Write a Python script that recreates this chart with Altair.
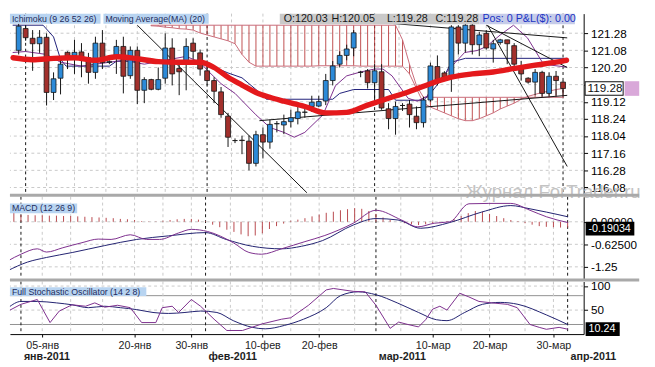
import json
import altair as alt
import pandas as pd

FONT = "Liberation Sans"
W = 589
H_MAIN, H_MACD, H_STO = 185, 84, 54

# ---------------- candles (bar index: 0 = 02-янв-2011, one bar per trading day incl. Sundays) ----
BAR_IDX = list(range(-1, 78))
OPEN = [121.24, 122.36, 121.86, 121.58, 121.91, 119.08, 119.81, 121.14, 120.98, 121.16,
        120.86, 120.11, 121.61, 120.62, 120.98, 121.44, 119.94, 121.24, 119.19, 119.74,
        119.24, 119.81, 121.36, 120.31, 120.61, 121.61, 121.11, 120.19, 119.69, 119.11,
        117.86, 116.61, 116.63, 116.58, 115.44, 116.91, 116.53, 117.47, 117.41, 117.58,
        117.74, 118.06, 118.36, 118.38, 118.64, 119.69, 120.53, 120.98, 121.36, 120.11,
        120.19, 119.58, 120.14, 118.24, 117.74, 118.41, 118.48, 117.86, 117.53, 118.69,
        120.41, 120.08, 119.86, 122.44, 121.61, 122.53, 121.53, 122.11, 121.31, 121.64,
        121.78, 121.48, 120.36, 119.81, 119.61, 120.11, 119.03, 119.91, 119.61]
HIGH = [122.61, 122.53, 122.28, 122.28, 122.11, 120.11, 120.81, 121.19, 121.78, 121.61,
        121.11, 121.94, 122.28, 120.73, 121.78, 121.94, 121.44, 121.44, 119.86, 119.78,
        120.36, 122.11, 121.86, 120.61, 121.86, 121.86, 121.28, 120.44, 119.86, 119.36,
        118.03, 116.72, 116.86, 116.86, 117.11, 117.28, 117.69, 117.61, 117.94, 118.19,
        118.48, 118.41, 118.91, 118.91, 120.03, 120.69, 121.19, 121.53, 122.28, 120.19,
        120.28, 120.53, 120.53, 118.53, 118.61, 118.53, 118.69, 118.36, 118.86, 120.61,
        120.98, 120.17, 122.53, 122.53, 122.68, 122.68, 122.19, 122.28, 121.78, 121.83,
        121.78, 121.61, 120.69, 119.86, 120.28, 120.19, 120.11, 120.18, 119.69]
LOW = [121.03, 121.73, 120.19, 121.11, 118.41, 118.69, 118.98, 120.28, 120.03, 119.86,
       119.53, 119.78, 120.28, 120.53, 120.03, 119.03, 119.78, 118.48, 118.53, 119.19,
       119.19, 119.53, 119.44, 118.94, 119.19, 120.78, 119.94, 119.44, 118.53, 117.78,
       116.28, 116.48, 115.91, 115.08, 115.28, 115.69, 116.19, 117.03, 116.94, 117.28,
       117.44, 117.78, 118.08, 118.33, 118.43, 119.44, 120.36, 120.73, 120.94, 119.86,
       119.28, 118.44, 118.19, 117.19, 116.91, 118.13, 117.28, 117.19, 117.28, 118.61,
       119.44, 119.78, 119.11, 121.03, 121.13, 121.03, 120.94, 121.28, 120.61, 121.53,
       120.53, 120.36, 119.69, 119.53, 118.94, 118.86, 118.91, 118.91, 118.93]
CLOSE = [122.48, 121.89, 121.58, 121.91, 119.08, 119.78, 120.53, 120.91, 121.14, 120.81,
         120.11, 121.61, 120.61, 120.66, 121.44, 119.91, 121.24, 119.19, 119.74, 119.24,
         119.74, 121.36, 120.03, 120.14, 121.44, 121.19, 120.28, 119.69, 119.14, 117.94,
         116.78, 116.61, 116.61, 115.44, 116.91, 116.53, 117.44, 117.48, 117.58, 117.78,
         118.08, 118.07, 118.58, 118.61, 119.69, 120.44, 120.98, 121.31, 122.14, 120.12,
         119.58, 120.19, 118.28, 117.74, 118.36, 118.41, 117.94, 117.53, 118.69, 120.44,
         119.69, 119.86, 122.44, 121.61, 122.53, 121.53, 122.03, 121.36, 121.58, 121.78,
         121.58, 120.53, 120.03, 119.61, 120.11, 119.03, 119.91, 119.69, 119.28]

# ---------------- Moving Average (20) ----------------
MA_X = [-1.8, 1, 4, 7, 10, 13, 16, 19, 22, 25, 27, 29, 31, 33, 35, 37, 40, 43, 46, 49,
        52, 55, 58, 61, 64, 67, 70, 73, 76, 77.5]
MA_Y = [120.86, 120.76, 120.83, 120.86, 120.73, 120.91, 120.81, 120.66, 120.63, 120.63,
        120.36, 119.86, 119.46, 119.08, 118.83, 118.63, 118.36, 118.03, 118.06, 118.43,
        118.78, 119.13, 119.53, 119.86, 120.03, 120.13, 120.31, 120.48, 120.63, 120.73]

# ---------------- Ichimoku ----------------
CLOUD_X = list(range(18, 78))
SPAN_A = [122.50, 122.48, 122.43, 122.40, 122.35, 122.33, 122.28, 122.13, 122.03, 121.93,
          121.83, 121.73, 121.58, 121.03, 120.63, 120.43, 120.43, 120.43, 120.43, 120.43,
          120.43, 120.43, 120.43, 120.43, 120.45, 120.45, 120.45, 120.45, 120.45, 120.45,
          120.43, 120.43, 120.43, 120.43, 120.43, 120.43, 120.43, 120.03, 119.28, 118.53,
          118.33, 118.18, 118.03, 117.88, 117.73, 117.63, 117.63, 117.73, 117.88, 118.03,
          118.23, 118.38, 118.53, 118.73, 118.88, 118.98, 119.08, 119.15, 119.23, 119.28]
SPAN_B = [122.53, 122.53, 122.53, 122.53, 122.53, 122.53, 122.53, 122.53, 122.53, 122.53,
          122.53, 122.53, 122.53, 122.53, 122.53, 122.53, 122.53, 122.53, 122.53, 122.53,
          122.53, 122.53, 122.53, 122.53, 122.53, 122.53, 122.53, 122.53, 122.53, 122.53,
          122.53, 122.53, 122.53, 122.53, 122.53, 122.53, 121.78, 120.53, 119.43, 118.83,
          118.83, 118.83, 118.83, 118.83, 118.83, 118.83, 118.83, 118.83, 118.83, 118.83,
          118.83, 118.83, 118.83, 118.83, 118.83, 118.83, 118.83, 118.83, 118.83, 118.83]
KIJUN_X = [-1.8, 2.5, 4, 5, 5.8, 12, 13, 22, 25, 27, 29, 31, 33, 34.5, 44, 45, 47, 52, 53, 57,
           58, 60, 61, 63, 77.5]
KIJUN_Y = [122.53, 122.53, 121.93, 120.78, 120.43, 120.43, 120.68, 120.68, 120.58, 120.38,
           120.08, 119.83, 119.23, 118.73, 118.73, 119.03, 119.23, 119.23, 118.68, 118.68,
           119.03, 119.93, 120.63, 120.83, 120.83]
TENKAN_X = [-1.8, 0, 3, 5, 8, 11, 14, 17, 20, 23, 25, 26, 28, 30, 33, 35, 37, 38.5, 40, 42.6,
            44.4, 46, 48, 50, 51.2, 52.5, 54.8, 56.1, 57.5, 58.4, 59.7, 61.6, 62.9, 64.7, 66,
            68, 69.9, 71.9, 74.2, 77.5]
TENKAN_Y = [121.13, 121.18, 121.03, 120.63, 120.43, 120.58, 120.73, 120.53, 120.73, 120.93,
            120.63, 120.23, 119.53, 119.03, 117.93, 117.28, 117.03, 116.78, 117.03, 117.93,
            119.43, 119.93, 120.13, 120.28, 120.28, 119.93, 118.78, 118.63, 118.88, 119.43,
            119.88, 120.63, 121.13, 121.23, 121.43, 122.03, 122.53, 121.88, 120.53, 120.38]

# ---------------- drawn trend lines ----------------
TREND_X1 = [16.0, 66.2, 66.0, 52.2, 33.5]
TREND_Y1 = [122.53, 122.53, 122.53, 122.63, 117.63]
TREND_X2 = [40.3, 77.6, 77.6, 77.6, 77.6]
TREND_Y2 = [113.93, 115.28, 120.36, 121.88, 118.93]

# ---------------- MACD (12 26 9) ----------------
MACD_X = [-1.8, 0, 2.3, 3.6, 5.9, 8.6, 10.9, 12.7, 15.4, 17.7, 19.5, 22.2, 24, 26.3, 29.9,
          32.1, 33.9, 36.7, 40, 42.8, 46.8, 50, 53.6, 55.9, 58.2, 60.4, 63.1, 65.9, 69,
          71.7, 74, 77]
MACD_Y = [-1.08, -0.90, -0.75, -0.84, -0.72, -0.58, -0.48, -0.49, -0.36, -0.49, -0.49, -0.31,
          -0.21, -0.27, -0.58, -0.85, -0.90, -0.75, -0.55, -0.38, -0.04, 0.32, 0.05, -0.14,
          -0.04, 0.00, 0.50, 0.51, 0.51, 0.32, 0.14, -0.02]
SIGNAL_X = [-1.8, 0.9, 3.6, 7.3, 11.8, 16.3, 20.8, 26, 28.9, 32.6, 36.7, 39.5, 42.5, 46.8,
            50, 53.1, 56.3, 60.4, 64.9, 69, 71.7, 74, 77]
SIGNAL_Y = [-1.35, -1.12, -0.99, -0.85, -0.66, -0.49, -0.39, -0.30, -0.49, -0.68, -0.75, -0.68,
            -0.52, -0.09, 0.09, 0.05, -0.18, -0.02, 0.27, 0.45, 0.36, 0.27, 0.14]
HIST = [0.35, 0.19, 0.19, 0.18, 0.18, 0.17, 0.17, 0.16, 0.16, 0.15,
        0.14, 0.13, 0.12, 0.11, 0.10, 0.08, 0.07, 0.05, 0.02, 0.01,
        0.01, 0.03, 0.05, 0.07, 0.08, 0.08, 0.06, 0.02, -0.08, -0.15,
        -0.22, -0.28, -0.35, -0.40, -0.38, -0.32, -0.20, -0.12, -0.05, 0.03,
        0.06, 0.10, 0.15, 0.20, 0.25, 0.28, 0.32, 0.35, 0.38, 0.36,
        0.30, 0.22, 0.12, 0.05, 0.00, -0.04, -0.07, -0.09, -0.07, -0.04,
        -0.02, 0.02, 0.08, 0.16, 0.24, 0.30, 0.28, 0.22, 0.16, 0.10,
        0.05, 0.02, -0.04, -0.08, -0.12, -0.14, -0.15, -0.16, -0.16]

# ---------------- Full Stochastic (14 2 8) ----------------
K_X = [-1.8, 0, 2.3, 4.1, 5.4, 7.2, 9.1, 10.4, 11.8, 13.6, 15.4, 17, 19, 19.9, 21.3, 22.2,
       24, 25.3, 27.2, 29, 31.2, 33.9, 36.7, 38, 40.5, 43, 44, 46.8, 48.5, 50, 52, 53.2,
       54.5, 56, 57, 58, 59, 60, 61.8, 63, 64.5, 66.3, 68.5, 69.9, 71.7, 73, 74, 75.8, 77]
K_Y = [48, 62, 72, 24, 48, 61, 58, 65, 56, 60, 55, 24, 24, 55, 58, 45, 72, 58, 31, 7.5,
       7.5, 21, 31, 34, 60, 92, 95, 89, 88, 60, 12, 25, 20, 15, 30, 52, 58, 50, 85, 78,
       68, 65, 62, 55, 20, 14, 10, 14, 10.24]
D_X = [-1.8, 0, 2.3, 5, 7.2, 9.5, 11.8, 14, 16.3, 18.6, 20.8, 23.1, 25.3, 27.6, 29.9, 32.6,
       34.4, 37.1, 39.8, 43, 45, 47.5, 50, 53, 56, 58.5, 60, 62.5, 65, 67.5, 70, 74, 77]
D_Y = [55, 68, 68, 65, 61, 55, 58, 55, 51, 45, 43, 45, 48, 45, 28, 14, 11, 18, 31, 55,
       80, 88, 82, 65, 45, 30, 28, 45, 62, 66, 62, 40, 20]

# ---------------- axes / labels ----------------
GRID_VALUES = [114.2, 115.08, 115.96, 116.84, 117.72, 118.6, 119.48, 120.36, 121.24, 122.12]
GRID_LABELS = ["116.08", "116.28", "117.16", "118.04", "118.24", "119.12", "", "120.20",
               "121.08", "121.28"]
MACD_TICKS = [0, -0.625, -1.25]
MACD_LABELS = ["0.00000", "-0.62500", "-1.25"]
STOCH_TICKS = [100, 50]
STOCH_SOLID = [80, 20]
GRID_DAYS = [3, 7, 11.5, 16, 20, 24, 29.5, 34, 38, 42, 47, 53.5, 58, 62, 66, 71, 75]
DAY_TICKS = [3, 16, 24, 34, 42, 58, 66, 75]
DAY_LABELS = ["05-янв", "20-янв", "30-янв", "10-фев", "20-фев", "10-мар", "20-мар", "30-мар"]
MONTH_IDX = [0, 26, 50, 77]
MONTH_LABELS = ["янв-2011", "фев-2011", "мар-2011", "апр-2011"]
LAST_PRICE, LAST_MACD, LAST_STOCH = 119.28, -0.19034, 10.24
HEADER = ["O:120.03", "H:120.05", "L:119.28", "C:119.28"]

BLUE, RED = "#2c8ad8", "#a2302c"

XS = alt.Scale(domain=[-1.55, 79.26], nice=False, zero=False)
YS_MAIN = alt.Scale(domain=[113.875, 123.125], nice=False, zero=False)
YS_MACD = alt.Scale(domain=[-1.576, 0.695], nice=False, zero=False)
YS_STO = alt.Scale(domain=[0, 109.5], nice=False, zero=False)


def X(field):
    return alt.X(field, type="quantitative", scale=XS, axis=None)


def Y(field, scale):
    return alt.Y(field, type="quantitative", scale=scale, axis=None)


def expr_map(values, labels):
    return "%s[indexof(%s, datum.value)]" % (json.dumps(labels), json.dumps(values))


def right_axis(values, labels=None):
    kw = dict(orient="right", values=values, title=None, grid=False, domainColor="black",
              tickColor="black", tickSize=4, labelFont=FONT, labelFontSize=12,
              labelColor="black", labelPadding=3, labelFlush=False, labelOverlap=False)
    if labels is not None:
        kw["labelExpr"] = expr_map(values, labels)
    return alt.Axis(**kw)


def xy_df(xs, ys):
    return pd.DataFrame({"x": xs, "y": ys})


def line(xs, ys, scale, color, width=1.0, interp="linear"):
    return alt.Chart(xy_df(xs, ys)).mark_line(
        color=color, strokeWidth=width, interpolate=interp, clip=True, strokeCap="round"
    ).encode(x=X("x"), y=Y("y", scale))


def label_box(x0, x1, y0, y1, text, fill, color, size, tx):
    d = pd.DataFrame({"t": [text]})
    rect = alt.Chart(d).mark_rect(fill=fill).encode(
        x=alt.value(x0), x2=alt.value(x1), y=alt.value(y0), y2=alt.value(y1))
    txt = alt.Chart(d).mark_text(align="left", baseline="middle", font=FONT, fontSize=size,
                                 color=color).encode(
        x=alt.value(tx), y=alt.value((y0 + y1) / 2), text="t:N")
    return [rect, txt]


def plain_text(x, y, text, color, size, weight="normal"):
    d = pd.DataFrame({"t": [text]})
    return alt.Chart(d).mark_text(align="left", baseline="middle", font=FONT, fontSize=size,
                                  color=color, fontWeight=weight).encode(
        x=alt.value(x), y=alt.value(y), text="t:N")


def axis_box(value, text, scale, x0, x1, thick, fill, border, txtcolor, size=11):
    d = pd.DataFrame({"v": [value], "t": [text]})
    y = Y("v", scale)
    return [
        alt.Chart(d).mark_rule(color=border, strokeWidth=thick + 2).encode(
            x=alt.value(x0 - 1), x2=alt.value(x1 + 1), y=y),
        alt.Chart(d).mark_rule(color=fill, strokeWidth=thick).encode(
            x=alt.value(x0), x2=alt.value(x1), y=y),
        alt.Chart(d).mark_text(align="left", baseline="middle", font=FONT, fontSize=size,
                               color=txtcolor).encode(x=alt.value(x0 + 2), y=y, text="t:N"),
    ]


def vgrid():
    return alt.Chart(pd.DataFrame({"d": GRID_DAYS})).mark_rule(
        color="#c9c9c9", strokeDash=[3, 3], strokeWidth=1).encode(x=X("d"))


def month_lines():
    return alt.Chart(pd.DataFrame({"m": MONTH_IDX})).mark_rule(
        color="#111111", strokeDash=[3, 3], strokeWidth=1).encode(x=X("m"))


def separator():
    d = pd.DataFrame({"a": [0]})
    return alt.Chart(d).mark_rule(color="#a9a9a9", strokeWidth=3).encode(
        x=alt.value(0), x2=alt.value(646), y=alt.value(-1.5))


def panel(layers, height):
    return alt.layer(*layers).resolve_axis(x="independent", y="independent").properties(
        width=W, height=height)


# ================= main panel =================
candles = pd.DataFrame({"i": BAR_IDX, "o": OPEN, "h": HIGH, "l": LOW, "c": CLOSE})
candles["dir"] = ["up" if c >= o else "down" for o, c in zip(OPEN, CLOSE)]
cloud = pd.DataFrame({"i": CLOUD_X, "a": SPAN_A, "b": SPAN_B})
trends = pd.DataFrame({"x1": TREND_X1, "y1": TREND_Y1, "x2": TREND_X2, "y2": TREND_Y2})

main_layers = [
    alt.Chart(pd.DataFrame({"v": GRID_VALUES})).mark_rule(
        color="#c9c9c9", strokeDash=[3, 3], strokeWidth=1).encode(
        y=alt.Y("v:Q", scale=YS_MAIN, axis=right_axis(GRID_VALUES, GRID_LABELS))),
    vgrid(),
    month_lines(),
    alt.Chart(cloud).mark_rule(color="#b83a3c", strokeWidth=1, opacity=0.9).encode(
        x=X("i"), y=Y("a", YS_MAIN), y2="b:Q"),
    line(CLOUD_X, SPAN_A, YS_MAIN, "#c86a78"),
    line(CLOUD_X, SPAN_B, YS_MAIN, "#c86a78"),
    line(KIJUN_X, KIJUN_Y, YS_MAIN, "#1e1e78"),
    line(TENKAN_X, TENKAN_Y, YS_MAIN, "#7b2c8c"),
    alt.Chart(trends).mark_rule(color="#111111", strokeWidth=1, clip=True).encode(
        x=X("x1"), x2="x2:Q", y=Y("y1", YS_MAIN), y2="y2:Q"),
    alt.Chart(candles).mark_rule(color="#111111", strokeWidth=1).encode(
        x=X("i"), y=Y("l", YS_MAIN), y2="h:Q"),
    alt.Chart(candles).mark_bar(size=5, stroke="#151515", strokeWidth=0.8).encode(
        x=X("i"), y=Y("o", YS_MAIN), y2="c:Q",
        color=alt.Color("dir:N", scale=alt.Scale(domain=["up", "down"], range=[BLUE, RED]),
                        legend=None)),
    line(MA_X, MA_Y, YS_MAIN, "#e4191c", width=5.5, interp="monotone"),
    plain_text(468, 183, "Журнал ForTrader.ru", "#c3c3c3", 19),
]
main_layers += label_box(0, 93, 0, 10.5, "Ichimoku (9 26 52 26)", "#b8d4f1", "#1f2c5c", 9, 2)
main_layers += label_box(96, 204, 0, 10.5, "Moving Average(MA) (20)", "#b8d4f1", "#1f2c5c", 9, 98)
main_layers += [alt.Chart(pd.DataFrame({"a": [0]})).mark_rect(fill="#c9c9c9").encode(
    x=alt.value(277), x2=alt.value(482), y=alt.value(0), y2=alt.value(11))]
for xpos, t in zip([281, 330, 387, 437], HEADER):
    main_layers.append(plain_text(xpos, 5.5, t, "#1a1a1a", 11))
main_layers += label_box(482, 580, 0, 11, "Pos: 0 P&L($): 0.00", "#c6cce9", "#1b33c4", 11, 485)
main_layers += axis_box(LAST_PRICE, "119.28", YS_MAIN, 591, 629, 13, "white", "#111111",
                        "#111111", 12)
main_layers += [alt.Chart(pd.DataFrame({"v": [LAST_PRICE]})).mark_rule(
    color="#d9a8d9", strokeWidth=15).encode(x=alt.value(631), x2=alt.value(646),
                                            y=Y("v", YS_MAIN))]

main = panel(main_layers, H_MAIN)

# ================= MACD panel =================
hist = pd.DataFrame({"i": BAR_IDX, "h": HIST})
macd_layers = [
    alt.Chart(pd.DataFrame({"v": MACD_TICKS})).mark_rule(
        color="#c9c9c9", strokeDash=[3, 3], strokeWidth=1).encode(
        y=alt.Y("v:Q", scale=YS_MACD, axis=right_axis(MACD_TICKS, MACD_LABELS))),
    vgrid(),
    month_lines(),
    alt.Chart(hist).mark_rule(color="#b8474c", strokeWidth=1).encode(
        x=X("i"), y=Y("h", YS_MACD), y2=alt.datum(0)),
    line(SIGNAL_X, SIGNAL_Y, YS_MACD, "#1e1e6e", interp="monotone"),
    line(MACD_X, MACD_Y, YS_MACD, "#7b2c8c", interp="monotone"),
]
macd_layers += label_box(0, 69, 7, 17, "MACD (12 26 9)", "#b8d4f1", "#1f2c5c", 9, 2)
macd_layers += axis_box(LAST_MACD, "-0.19034", YS_MACD, 592, 640, 12, "#000000", "#000000",
                        "white")
macd_layers.append(separator())
macd = panel(macd_layers, H_MACD)

# ================= Stochastic panel =================
sto_layers = [
    alt.Chart(pd.DataFrame({"v": STOCH_TICKS})).mark_rule(
        color="#c9c9c9", strokeDash=[3, 3], strokeWidth=1).encode(
        y=alt.Y("v:Q", scale=YS_STO, axis=right_axis(STOCH_TICKS))),
    alt.Chart(pd.DataFrame({"v": STOCH_SOLID})).mark_rule(color="#8f8f8f", strokeWidth=1).encode(
        y=Y("v", YS_STO)),
    alt.Chart(pd.DataFrame({"d": GRID_DAYS})).mark_rule(
        color="#c9c9c9", strokeDash=[3, 3], strokeWidth=1).encode(
        x=alt.X("d:Q", scale=XS, axis=alt.Axis(
            values=DAY_TICKS, labelExpr=expr_map(DAY_TICKS, DAY_LABELS), title=None, grid=False,
            domainColor="black", tickColor="black", tickSize=3, labelPadding=3, labelFont=FONT,
            labelFontSize=11, labelColor="#1e1e1e", labelFlush=False, labelOverlap=False))),
    month_lines(),
    line(D_X, D_Y, YS_STO, "#1e1e6e", interp="monotone"),
    line(K_X, K_Y, YS_STO, "#7b2c8c"),
    alt.Chart(pd.DataFrame({"m": MONTH_IDX, "t": MONTH_LABELS})).mark_text(
        align="left", baseline="middle", font=FONT, fontSize=11, fontWeight="bold",
        color="#1e1e1e", dx=3).encode(x=X("m"), y=alt.value(H_STO + 24), text="t:N"),
]
sto_layers += label_box(0, 140, 6, 15, "Full Stochastic Oscillator (14 2 8)", "#b8d4f1",
                        "#1f2c5c", 9, 2)
sto_layers += axis_box(LAST_STOCH, "10.24", YS_STO, 592, 625, 12, "#000000", "#000000", "white")
sto_layers.append(separator())
sto = panel(sto_layers, H_STO)

chart = alt.vconcat(main, macd, sto, spacing=3, bounds="flush", padding=0,
                    background="white").configure_view(stroke=None)

chart.save("out.html", embed_options={"renderer": "svg", "actions": False})
